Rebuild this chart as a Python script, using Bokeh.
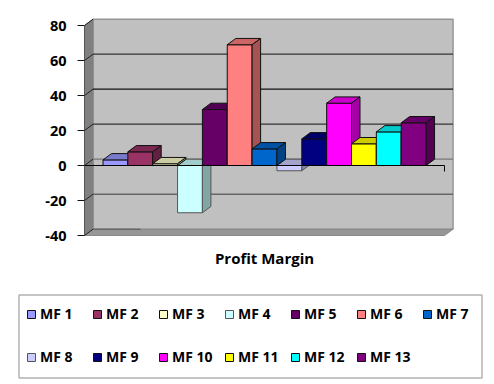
from bokeh.plotting import figure
from bokeh.embed import file_html
from bokeh.resources import INLINE
from bokeh.models import LinearAxis, FixedTicker, Legend, LegendItem, BoxAnnotation
from bokeh.core.properties import value

names = ["MF 1","MF 2","MF 3","MF 4","MF 5","MF 6","MF 7","MF 8","MF 9","MF 10","MF 11","MF 12","MF 13"]
margins = [3.2,7.8,1.0,-27.0,32.0,69.0,9.5,-3.0,15.2,35.6,12.4,19.2,24.4]
colors = ["#9999FF","#993366","#FFFFCC","#CCFFFF","#660066","#FF8080","#0066CC","#CCCCFF","#000080","#FF00FF","#FFFF00","#00FFFF","#800080"]
y_ticks = [-40,-20,0,20,40,60,80]
y_labels = {t: str(t) for t in y_ticks}
category = "Profit Margin"

W, H = 494, 384
XS, YS = 24.85, 1.75            # px per data unit
X0, Y0 = 102.5, 165.0           # canvas px of x=0 and y=0
DX, DY = 8.5/XS, 6.3/YS         # depth of the 3-D box
XL, XR = -18.5/XS, (len(names)*XS+18.5)/XS

p = figure(width=W, height=H, output_backend="svg", toolbar_location=None,
           x_range=(-X0/XS, (W-X0)/XS), y_range=((Y0-H)/YS, Y0/YS),
           x_axis_type=None, y_axis_type=None, min_border=0, outline_line_color=None,
           background_fill_color="white", border_fill_color="white")
p.grid.visible = False

ymin, ymax = y_ticks[0], y_ticks[-1]
# walls
p.patch([XL+DX,XR+DX,XR+DX,XL+DX],[ymin+DY,ymin+DY,ymax+DY,ymax+DY],fill_color="#C0C0C0",line_color="#969696",line_width=1.5)
p.patch([XL,XL+DX,XL+DX,XL],[ymin,ymin+DY,ymax+DY,ymax],fill_color="#808080",line_color="#808080")
p.patch([XL,XR,XR+DX,XL+DX],[ymin,ymin,ymin+DY,ymin+DY],fill_color="#969696",line_color="#8a8a8a")
# gridlines
grid_col = {60:"#333333",40:"#111111",20:"#333333",0:"#777777",-20:"#666666"}
for t in y_ticks[1:-1]:
    p.line([XL+DX,XR+DX],[t+DY,t+DY],line_color=grid_col[t],line_width=1.5 if t<0 else 1.2)
p.line([XL+DX,(140-102.5)/XS],[ymin+DY,ymin+DY],line_color="#555555",line_width=1)
for t in y_ticks:
    p.line([XL,XL+DX],[t,t+DY],line_color="#222222",line_width=1)

def shade(c,f):
    return "#%02X%02X%02X"%tuple(int(int(c[i:i+2],16)*f) for i in (1,3,5))

renderers = {}
order = [i for i,v in enumerate(margins) if v<0]+[i for i,v in enumerate(margins) if v>=0]
for i in order:
    v, c = margins[i], colors[i]
    top, bottom = max(v,0), min(v,0)
    edge = "#555555" if v<0 else "#111111"
    renderers[i] = p.quad(left=i,right=i+1,bottom=bottom,top=top,fill_color=c,line_color=edge,line_width=1)
    p.patch([i,i+1,i+1+DX,i+DX],[top,top,top+DY,top+DY],fill_color=shade(c,.8),line_color=edge)
    p.patch([i+1,i+1+DX,i+1+DX,i+1],[bottom,bottom+DY,top+DY,top],fill_color=shade(c,.65),line_color=edge)

# value axis
ya = LinearAxis(fixed_location=XL,ticker=FixedTicker(ticks=y_ticks),bounds=(ymin,ymax),
                major_label_overrides=y_labels,
                axis_line_color="#555555",major_tick_line_color="#111111",major_tick_in=0,major_tick_out=7,
                minor_tick_line_color=None,major_label_standoff=11,
                major_label_text_font="Open Sans",major_label_text_font_style="bold",
                major_label_text_font_size="14.5px",major_label_text_color="black")
p.add_layout(ya,"left")
# zero line with end ticks
xa = LinearAxis(fixed_location=0,ticker=FixedTicker(ticks=[XL,XR]),bounds=(XL,XR),
                axis_line_color="black",major_tick_line_color="black",major_tick_in=0,major_tick_out=6,
                minor_tick_line_color=None,major_label_text_color=None,major_label_text_font_size="1px")
p.add_layout(xa,"below")
# category label
p.text([len(names)/2],[(Y0-257.5)/YS],text=[category],text_align="center",text_baseline="middle",
       text_font=value("Open Sans"),text_font_style="bold",text_font_size="15px",text_color="black")

# legend
p.add_layout(BoxAnnotation(left=18.5,right=481.5,top=H-294.5,bottom=H-377.5,left_units="screen",right_units="screen",
                           top_units="screen",bottom_units="screen",fill_color="white",fill_alpha=1,
                           line_color="black",line_width=1.5,level="overlay"))
leg = Legend(items=[LegendItem(label=n,renderers=[renderers[i]]) for i,n in enumerate(names)],
             orientation="horizontal",ncols=7,location=(26,11),
             glyph_width=10,glyph_height=10,label_standoff=4,label_width=42,label_height=33,
             spacing=10,padding=9,margin=0,
             label_text_font="Open Sans",label_text_font_style="bold",label_text_font_size="14px",
             label_text_color="black",border_line_color=None,background_fill_alpha=0,
             click_policy="none")
leg.level="overlay"
p.add_layout(leg)

open("out.html","w").write(file_html(p,INLINE))
